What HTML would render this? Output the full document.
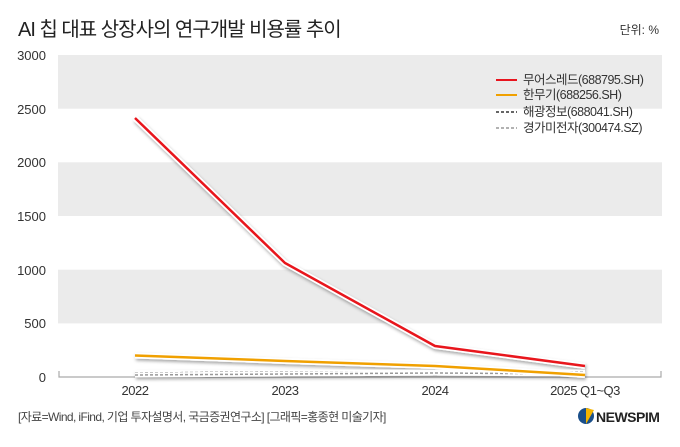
<!DOCTYPE html>
<html><head><meta charset="utf-8"><style>
body{margin:0;width:680px;height:442px;background:#fff;overflow:hidden;font-family:"Liberation Sans","Noto Sans CJK KR",sans-serif}
</style></head><body>
<svg width="680" height="442" xmlns="http://www.w3.org/2000/svg" style="font-family:'Liberation Sans','Noto Sans CJK KR',sans-serif">
<defs><filter id="sh" x="-10%" y="-10%" width="120%" height="130%"><feDropShadow dx="1" dy="2" stdDeviation="1.5" flood-color="#000" flood-opacity="0.35"/></filter></defs>
<text x="18" y="36" font-size="20" fill="#222" letter-spacing="-1">AI 칩 대표 상장사의 연구개발 비용률 추이</text>
<text x="659" y="34" font-size="12" fill="#333" text-anchor="end">단위: %</text>
<rect x="58" y="55" width="604" height="53.7" fill="#ebebeb"/>
<rect x="58" y="162.3" width="604" height="53.7" fill="#ebebeb"/>
<rect x="58" y="269.7" width="604" height="53.7" fill="#ebebeb"/>
<g font-size="13" fill="#333" text-anchor="end">
<text x="46" y="60">3000</text><text x="46" y="114">2500</text><text x="46" y="167">2000</text>
<text x="46" y="221">1500</text><text x="46" y="275">1000</text><text x="46" y="328">500</text><text x="46" y="382">0</text>
</g>
<path d="M59 371V377H661V371" fill="none" stroke="#aaa" stroke-width="1.2"/>
<g font-size="13" fill="#333" text-anchor="middle" letter-spacing="-0.5">
<text x="135" y="395">2022</text><text x="285" y="395">2023</text><text x="435" y="395">2024</text><text x="585" y="395">2025 Q1~Q3</text>
</g>
<g filter="url(#sh)" fill="none">
<polyline points="135,373 285,372 435,372 585,372" stroke="#fff" stroke-width="5"/>
<polyline points="135,373 285,372 435,372 585,372" stroke="#333" stroke-width="1.5" stroke-dasharray="3,2"/>
<polyline points="135,375 285,374 435,373 585,374" stroke="#fff" stroke-width="5"/>
<polyline points="135,375 285,374 435,373 585,374" stroke="#999" stroke-width="1.5" stroke-dasharray="3,2"/>
<polyline points="135,355.5 285,361 435,366 585,375" stroke="#fff" stroke-width="6"/>
<polyline points="135,355.5 285,361 435,366 585,375" stroke="#f0a000" stroke-width="2.5"/>
<polyline points="135,118 285,263 435,346 585,366" stroke="#fff" stroke-width="6"/>
<polyline points="135,118 285,263 435,346 585,366" stroke="#e8141e" stroke-width="2.5"/>
</g>
<g font-size="12.5" fill="#333" letter-spacing="-0.5">
<line x1="496" y1="80" x2="517" y2="80" stroke="#e8141e" stroke-width="2"/><text x="523" y="84">무어스레드(688795.SH)</text>
<line x1="496" y1="95" x2="517" y2="95" stroke="#f0a000" stroke-width="2"/><text x="523" y="99">한무기(688256.SH)</text>
<line x1="496" y1="112" x2="517" y2="112" stroke="#333" stroke-width="1.5" stroke-dasharray="3,2"/><text x="523" y="116">해광정보(688041.SH)</text>
<line x1="496" y1="128" x2="517" y2="128" stroke="#999" stroke-width="1.5" stroke-dasharray="3,2"/><text x="523" y="132">경가미전자(300474.SZ)</text>
</g>
<text x="18" y="421" font-size="12" fill="#444" letter-spacing="-0.6">[자료=Wind, iFind, 기업 투자설명서, 국금증권연구소] [그래픽=홍종현 미술기자]</text>
<circle cx="586" cy="416" r="8" fill="#1a4f8a"/><path d="M586 408 L594 410 L586 424 Z" fill="#f4b400"/>
<text x="596" y="422" font-size="14" font-weight="bold" fill="#222" letter-spacing="-0.5">NEWSPIM</text>
</svg>
</body></html>
